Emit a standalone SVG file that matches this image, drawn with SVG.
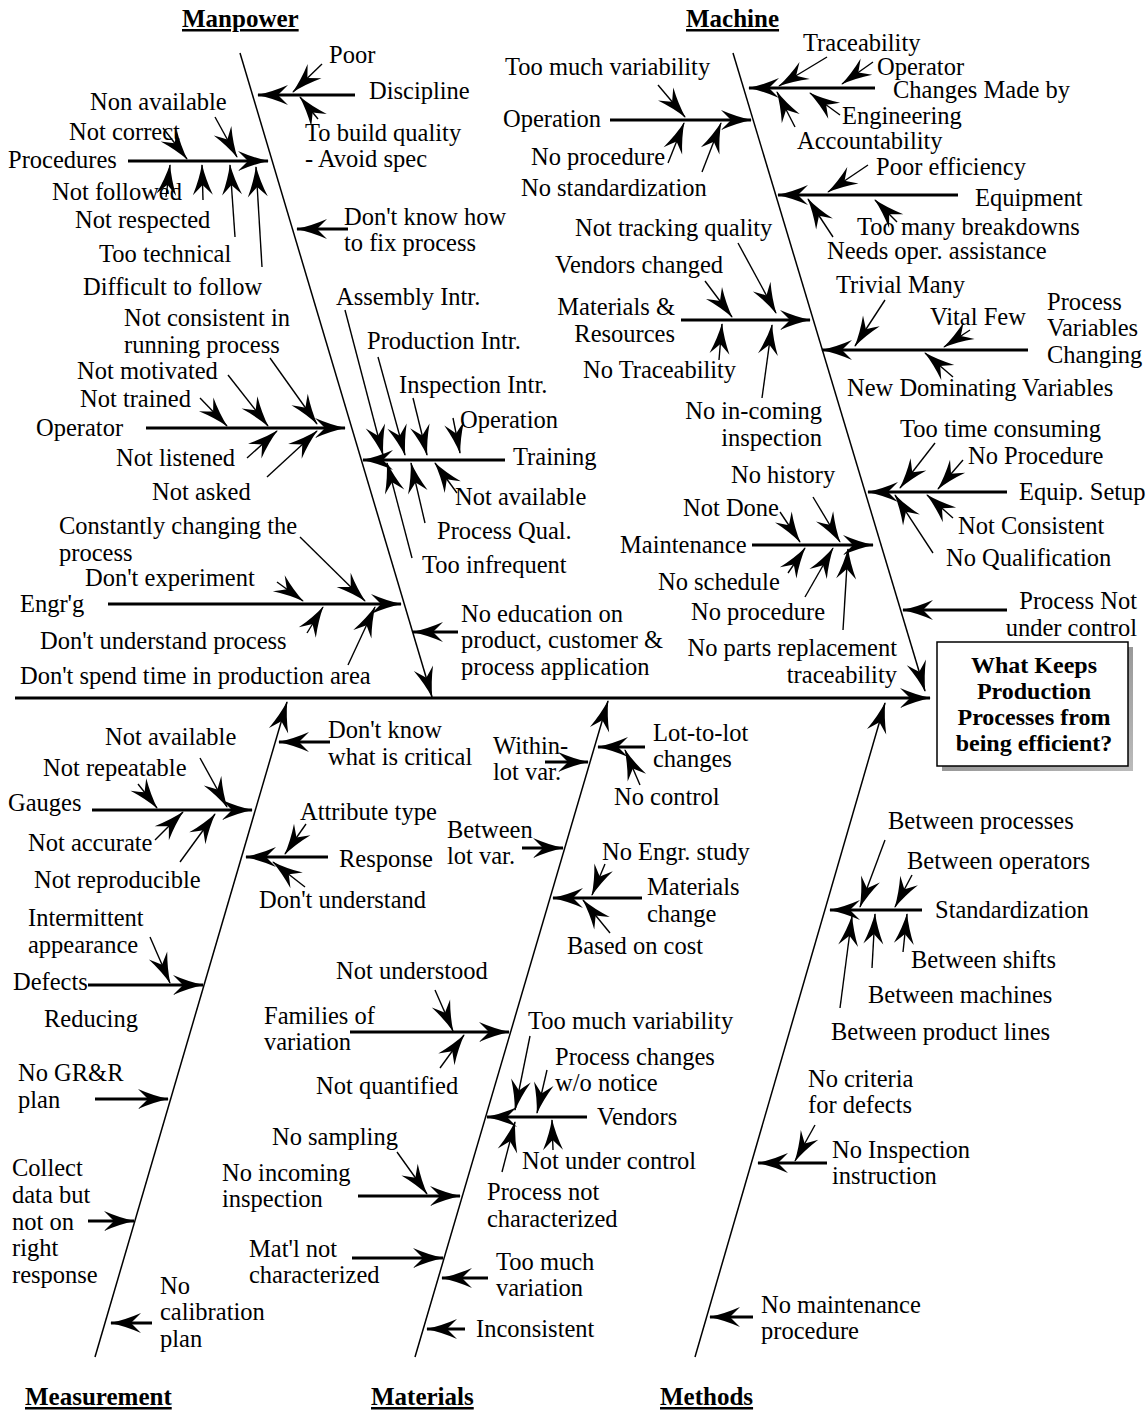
<svg xmlns="http://www.w3.org/2000/svg" width="1148" height="1414" viewBox="0 0 1148 1414">
<style>
text{font-family:"Liberation Serif","Times New Roman",serif;font-size:24.5px;fill:#000}
.h{font-weight:bold;text-decoration:underline;font-size:25px}
.b{font-weight:bold;font-size:24px}
.e{text-anchor:end}
.m{text-anchor:middle}
line{stroke:#000;fill:none;marker-end:url(#ah)}
.k{stroke-width:3}
.n{stroke-width:1.4}
.bone{stroke-width:1.5}
</style>
<defs>
<marker id="ah" markerUnits="userSpaceOnUse" orient="auto" markerWidth="34" markerHeight="24" viewBox="-32 -12 34 24" refX="0" refY="0" overflow="visible">
<path d="M1,0 Q-14,-3 -30,-10 Q-24,-4 -20,0 Q-24,4 -30,10 Q-14,3 1,0 Z" fill="#000"/>
</marker>
<linearGradient id="sh" x1="0" y1="0" x2="1" y2="1"><stop offset="0" stop-color="#777"/><stop offset="1" stop-color="#bbb"/></linearGradient>
</defs>
<rect width="1148" height="1414" fill="#fff"/>

<g id="connectors">
<line class="k" x1="15" y1="698" x2="930" y2="698"/>
<line class="bone" x1="240" y1="53" x2="432" y2="697"/>
<line class="bone" x1="733" y1="53" x2="925" y2="691"/>
<line class="bone" x1="95" y1="1357" x2="287" y2="702"/>
<line class="bone" x1="415" y1="1357" x2="608" y2="701"/>
<line class="bone" x1="695" y1="1357" x2="885" y2="703"/>
<line class="k" x1="355" y1="95" x2="258" y2="95"/>
<line class="n" x1="322" y1="64" x2="293" y2="92"/>
<line class="n" x1="318" y1="119" x2="300" y2="97"/>
<line class="k" x1="128" y1="161" x2="268" y2="161"/>
<line class="n" x1="215" y1="117" x2="237" y2="157"/>
<line class="n" x1="163" y1="128" x2="187" y2="159"/>
<line class="n" x1="166" y1="197" x2="170" y2="165"/>
<line class="n" x1="203" y1="200" x2="202" y2="165"/>
<line class="n" x1="235" y1="237" x2="230" y2="165"/>
<line class="n" x1="262" y1="267" x2="256" y2="167"/>
<line class="k" x1="348" y1="229" x2="297" y2="229"/>
<line class="k" x1="146" y1="428" x2="345" y2="428"/>
<line class="n" x1="270" y1="358" x2="317" y2="424"/>
<line class="n" x1="228" y1="375" x2="268" y2="426"/>
<line class="n" x1="200" y1="398" x2="227" y2="426"/>
<line class="n" x1="247" y1="458" x2="277" y2="431"/>
<line class="n" x1="267" y1="477" x2="317" y2="431"/>
<line class="k" x1="505" y1="460" x2="363" y2="460"/>
<line class="n" x1="345" y1="310" x2="383" y2="455"/>
<line class="n" x1="378" y1="357" x2="405" y2="455"/>
<line class="n" x1="413" y1="398" x2="427" y2="455"/>
<line class="n" x1="453" y1="418" x2="460" y2="453"/>
<line class="n" x1="457" y1="493" x2="435" y2="463"/>
<line class="n" x1="425" y1="523" x2="411" y2="463"/>
<line class="n" x1="412" y1="558" x2="387" y2="463"/>
<line class="k" x1="108" y1="604" x2="401" y2="604"/>
<line class="n" x1="300" y1="537" x2="365" y2="601"/>
<line class="n" x1="277" y1="582" x2="303" y2="601"/>
<line class="n" x1="307" y1="633" x2="323" y2="607"/>
<line class="n" x1="348" y1="665" x2="375" y2="607"/>
<line class="k" x1="458" y1="632" x2="413" y2="632"/>
<line class="k" x1="875" y1="88" x2="749" y2="88"/>
<line class="n" x1="827" y1="57" x2="779" y2="86"/>
<line class="n" x1="873" y1="62" x2="842" y2="84"/>
<line class="n" x1="840" y1="115" x2="810" y2="93"/>
<line class="n" x1="795" y1="127" x2="777" y2="92"/>
<line class="k" x1="610" y1="120" x2="751" y2="120"/>
<line class="n" x1="658" y1="85" x2="685" y2="117"/>
<line class="n" x1="668" y1="163" x2="684" y2="123"/>
<line class="n" x1="702" y1="172" x2="721" y2="123"/>
<line class="k" x1="958" y1="195" x2="778" y2="195"/>
<line class="n" x1="868" y1="165" x2="828" y2="192"/>
<line class="n" x1="897" y1="222" x2="875" y2="200"/>
<line class="n" x1="833" y1="237" x2="808" y2="199"/>
<line class="k" x1="681" y1="320" x2="810" y2="320"/>
<line class="n" x1="738" y1="243" x2="776" y2="313"/>
<line class="n" x1="705" y1="281" x2="732" y2="317"/>
<line class="n" x1="719" y1="360" x2="722" y2="324"/>
<line class="n" x1="762" y1="398" x2="772" y2="325"/>
<line class="k" x1="1028" y1="350" x2="822" y2="350"/>
<line class="n" x1="885" y1="300" x2="855" y2="346"/>
<line class="n" x1="970" y1="330" x2="944" y2="347"/>
<line class="n" x1="953" y1="377" x2="925" y2="353"/>
<line class="k" x1="1007" y1="492" x2="868" y2="492"/>
<line class="n" x1="935" y1="443" x2="900" y2="488"/>
<line class="n" x1="963" y1="460" x2="938" y2="489"/>
<line class="n" x1="953" y1="518" x2="927" y2="495"/>
<line class="n" x1="933" y1="553" x2="895" y2="495"/>
<line class="k" x1="752" y1="545" x2="873" y2="545"/>
<line class="n" x1="813" y1="497" x2="840" y2="542"/>
<line class="n" x1="780" y1="512" x2="800" y2="542"/>
<line class="n" x1="788" y1="573" x2="805" y2="548"/>
<line class="n" x1="805" y1="597" x2="833" y2="548"/>
<line class="n" x1="843" y1="630" x2="848" y2="549"/>
<line class="k" x1="1007" y1="610" x2="903" y2="610"/>
<line class="k" x1="330" y1="742" x2="279" y2="742"/>
<line class="k" x1="92" y1="810" x2="252" y2="810"/>
<line class="n" x1="200" y1="758" x2="227" y2="807"/>
<line class="n" x1="138" y1="784" x2="157" y2="808"/>
<line class="n" x1="155" y1="840" x2="183" y2="812"/>
<line class="n" x1="180" y1="862" x2="215" y2="814"/>
<line class="k" x1="328" y1="857" x2="246" y2="857"/>
<line class="n" x1="306" y1="824" x2="285" y2="854"/>
<line class="n" x1="305" y1="887" x2="273" y2="862"/>
<line class="k" x1="88" y1="985" x2="203" y2="985"/>
<line class="n" x1="150" y1="937" x2="170" y2="983"/>
<line class="k" x1="95" y1="1099" x2="168" y2="1099"/>
<line class="k" x1="88" y1="1221" x2="134" y2="1221"/>
<line class="k" x1="152" y1="1323" x2="111" y2="1323"/>
<line class="k" x1="545" y1="762" x2="588" y2="762"/>
<line class="k" x1="645" y1="747" x2="598" y2="747"/>
<line class="n" x1="640" y1="785" x2="625" y2="750"/>
<line class="k" x1="522" y1="848" x2="563" y2="848"/>
<line class="k" x1="642" y1="898" x2="553" y2="898"/>
<line class="n" x1="605" y1="864" x2="592" y2="895"/>
<line class="n" x1="610" y1="933" x2="583" y2="900"/>
<line class="k" x1="350" y1="1032" x2="509" y2="1032"/>
<line class="n" x1="435" y1="990" x2="453" y2="1031"/>
<line class="n" x1="440" y1="1068" x2="464" y2="1035"/>
<line class="k" x1="587" y1="1117" x2="487" y2="1117"/>
<line class="n" x1="530" y1="1036" x2="515" y2="1110"/>
<line class="n" x1="547" y1="1070" x2="537" y2="1113"/>
<line class="n" x1="553" y1="1150" x2="552" y2="1120"/>
<line class="n" x1="502" y1="1172" x2="515" y2="1122"/>
<line class="k" x1="358" y1="1196" x2="460" y2="1196"/>
<line class="n" x1="397" y1="1152" x2="427" y2="1194"/>
<line class="k" x1="352" y1="1258" x2="443" y2="1258"/>
<line class="k" x1="488" y1="1278" x2="442" y2="1278"/>
<line class="k" x1="465" y1="1329" x2="427" y2="1329"/>
<line class="k" x1="922" y1="910" x2="830" y2="910"/>
<line class="n" x1="885" y1="840" x2="860" y2="907"/>
<line class="n" x1="912" y1="875" x2="895" y2="907"/>
<line class="n" x1="903" y1="952" x2="907" y2="914"/>
<line class="n" x1="872" y1="968" x2="875" y2="914"/>
<line class="n" x1="840" y1="1008" x2="852" y2="916"/>
<line class="k" x1="827" y1="1163" x2="758" y2="1163"/>
<line class="n" x1="815" y1="1125" x2="795" y2="1161"/>
<line class="k" x1="753" y1="1317" x2="710" y2="1317"/>
</g>

<g id="head">
<rect x="942" y="647" width="191" height="124" fill="url(#sh)"/>
<rect x="937" y="642" width="191" height="124" fill="#fff" stroke="#000" stroke-width="1.5"/>
<text class="b m" x="1034" y="673">What Keeps</text>
<text class="b m" x="1034" y="699">Production</text>
<text class="b m" x="1034" y="725">Processes from</text>
<text class="b m" x="1034" y="751">being efficient?</text>
</g>

<g id="cat-manpower"><text class="h" x="182" y="27">Manpower</text></g>
<g id="cat-machine"><text class="h" x="686" y="27">Machine</text></g>
<g id="cat-measurement"><text class="h" x="25" y="1405">Measurement</text></g>
<g id="cat-materials"><text class="h" x="371" y="1405">Materials</text></g>
<g id="cat-methods"><text class="h" x="660" y="1405">Methods</text></g>

<g id="manpower-labels">
<g id="mp-poor"><text x="329" y="63">Poor</text></g>
<g id="mp-discipline"><text x="369" y="99">Discipline</text></g>
<g id="mp-tobuild"><text x="305" y="141">To build quality</text><text x="305" y="167">- Avoid spec</text></g>
<g id="mp-nonavail"><text x="90" y="110">Non available</text></g>
<g id="mp-notcorrect"><text x="69" y="140">Not correct</text></g>
<g id="mp-procedures"><text x="8" y="168">Procedures</text></g>
<g id="mp-notfollowed"><text x="52" y="200">Not followed</text></g>
<g id="mp-notrespected"><text x="75" y="228">Not respected</text></g>
<g id="mp-tootech"><text x="99" y="262">Too technical</text></g>
<g id="mp-difficult"><text x="83" y="295">Difficult to follow</text></g>
<g id="mp-dontknow"><text x="344" y="225">Don't know how</text><text x="344" y="251">to fix process</text></g>
<g id="mp-assembly"><text x="336" y="305">Assembly Intr.</text></g>
<g id="mp-notconsistent"><text x="124" y="326">Not consistent in</text><text x="124" y="353">running process</text></g>
<g id="mp-production"><text x="367" y="349">Production Intr.</text></g>
<g id="mp-notmotivated"><text x="77" y="379">Not motivated</text></g>
<g id="mp-inspection"><text x="399" y="393">Inspection Intr.</text></g>
<g id="mp-nottrained"><text x="80" y="407">Not trained</text></g>
<g id="mp-operation"><text x="460" y="428">Operation</text></g>
<g id="mp-operator"><text x="36" y="436">Operator</text></g>
<g id="mp-training"><text x="513" y="465">Training</text></g>
<g id="mp-notlistened"><text x="116" y="466">Not listened</text></g>
<g id="mp-notavailable"><text x="455" y="505">Not available</text></g>
<g id="mp-notasked"><text x="152" y="500">Not asked</text></g>
<g id="mp-processqual"><text x="437" y="539">Process Qual.</text></g>
<g id="mp-constantly"><text x="59" y="534">Constantly changing the</text><text x="59" y="561">process</text></g>
<g id="mp-tooinfrequent"><text x="422" y="573">Too infrequent</text></g>
<g id="mp-dontexperiment"><text x="85" y="586">Don't experiment</text></g>
<g id="mp-engrg"><text x="20" y="612">Engr'g</text></g>
<g id="mp-noeducation"><text x="461" y="622">No education on</text><text x="461" y="648">product, customer &amp;</text><text x="461" y="675">process application</text></g>
<g id="mp-dontunderstand"><text x="40" y="649">Don't understand process</text></g>
<g id="mp-dontspend"><text x="20" y="684">Don't spend time in production area</text></g>
</g>

<g id="machine-labels">
<g id="mc-traceability"><text x="803" y="51">Traceability</text></g>
<g id="mc-toomuch"><text x="505" y="75">Too much variability</text></g>
<g id="mc-operator"><text x="877" y="75">Operator</text></g>
<g id="mc-changes"><text x="893" y="98">Changes Made by</text></g>
<g id="mc-operation"><text x="503" y="127">Operation</text></g>
<g id="mc-engineering"><text x="842" y="124">Engineering</text></g>
<g id="mc-accountability"><text x="797" y="149">Accountability</text></g>
<g id="mc-noprocedure"><text x="531" y="165">No procedure</text></g>
<g id="mc-poorefficiency"><text x="876" y="175">Poor efficiency</text></g>
<g id="mc-nostandard"><text x="521" y="196">No standardization</text></g>
<g id="mc-equipment"><text x="975" y="206">Equipment</text></g>
<g id="mc-toomany"><text x="857" y="235">Too many breakdowns</text></g>
<g id="mc-nottracking"><text x="575" y="236">Not tracking quality</text></g>
<g id="mc-needsoper"><text x="827" y="259">Needs oper. assistance</text></g>
<g id="mc-vendorschanged"><text x="555" y="273">Vendors changed</text></g>
<g id="mc-trivial"><text x="836" y="293">Trivial Many</text></g>
<g id="mc-procvars"><text x="1047" y="310">Process</text><text x="1047" y="336">Variables</text><text x="1047" y="363">Changing</text></g>
<g id="mc-materials"><text class="e" x="675" y="315">Materials &amp;</text><text class="e" x="675" y="342">Resources</text></g>
<g id="mc-vitalfew"><text x="930" y="325">Vital Few</text></g>
<g id="mc-notrace"><text x="583" y="378">No Traceability</text></g>
<g id="mc-newdom"><text x="847" y="396">New Dominating Variables</text></g>
<g id="mc-noincoming"><text class="e" x="822" y="419">No in-coming</text><text class="e" x="822" y="446">inspection</text></g>
<g id="mc-tootime"><text x="900" y="437">Too time consuming</text></g>
<g id="mc-noprocedure2"><text x="968" y="464">No Procedure</text></g>
<g id="mc-nohistory"><text x="731" y="483">No history</text></g>
<g id="mc-equipsetup"><text x="1019" y="500">Equip. Setup</text></g>
<g id="mc-notdone"><text x="683" y="516">Not Done</text></g>
<g id="mc-notconsistent"><text x="958" y="534">Not Consistent</text></g>
<g id="mc-maintenance"><text x="620" y="553">Maintenance</text></g>
<g id="mc-noqual"><text x="946" y="566">No Qualification</text></g>
<g id="mc-noschedule"><text x="658" y="590">No schedule</text></g>
<g id="mc-processnot"><text class="e" x="1137" y="609">Process Not</text><text class="e" x="1137" y="636">under control</text></g>
<g id="mc-noprocedure3"><text x="691" y="620">No procedure</text></g>
<g id="mc-noparts"><text class="e" x="897" y="656">No parts replacement</text><text class="e" x="897" y="683">traceability</text></g>
</g>

<g id="measurement-labels">
<g id="ms-dontknow"><text x="328" y="738">Don't know</text><text x="328" y="765">what is critical</text></g>
<g id="ms-notavailable"><text x="105" y="745">Not available</text></g>
<g id="ms-notrepeatable"><text x="43" y="776">Not repeatable</text></g>
<g id="ms-gauges"><text x="8" y="811">Gauges</text></g>
<g id="ms-attribute"><text x="300" y="820">Attribute type</text></g>
<g id="ms-notaccurate"><text x="28" y="851">Not accurate</text></g>
<g id="ms-response"><text x="339" y="867">Response</text></g>
<g id="ms-notrepro"><text x="34" y="888">Not reproducible</text></g>
<g id="ms-dontunderstand"><text x="259" y="908">Don't understand</text></g>
<g id="ms-intermittent"><text x="28" y="926">Intermittent</text><text x="28" y="953">appearance</text></g>
<g id="ms-defects"><text x="13" y="990">Defects</text></g>
<g id="ms-reducing"><text x="44" y="1027">Reducing</text></g>
<g id="ms-nogrr"><text x="18" y="1081">No GR&amp;R</text><text x="18" y="1108">plan</text></g>
<g id="ms-collect"><text x="12" y="1176">Collect</text><text x="12" y="1203">data but</text><text x="12" y="1230">not on</text><text x="12" y="1256">right</text><text x="12" y="1283">response</text></g>
<g id="ms-nocal"><text x="160" y="1294">No</text><text x="160" y="1320">calibration</text><text x="160" y="1347">plan</text></g>
</g>

<g id="materials-labels">
<g id="mt-within"><text x="493" y="754">Within-</text><text x="493" y="780">lot var.</text></g>
<g id="mt-lottolot"><text x="653" y="741">Lot-to-lot</text><text x="653" y="767">changes</text></g>
<g id="mt-nocontrol"><text x="614" y="805">No control</text></g>
<g id="mt-between"><text x="447" y="838">Between</text><text x="447" y="864">lot var.</text></g>
<g id="mt-noengr"><text x="602" y="860">No Engr. study</text></g>
<g id="mt-matchange"><text x="647" y="895">Materials</text><text x="647" y="922">change</text></g>
<g id="mt-basedoncost"><text x="567" y="954">Based on cost</text></g>
<g id="mt-notunderstood"><text x="336" y="979">Not understood</text></g>
<g id="mt-families"><text x="264" y="1024">Families of</text><text x="264" y="1050">variation</text></g>
<g id="mt-toomuchvar"><text x="528" y="1029">Too much variability</text></g>
<g id="mt-procchanges"><text x="555" y="1065">Process changes</text><text x="555" y="1091">w/o notice</text></g>
<g id="mt-notquant"><text x="316" y="1094">Not quantified</text></g>
<g id="mt-vendors"><text x="597" y="1125">Vendors</text></g>
<g id="mt-nosampling"><text x="272" y="1145">No sampling</text></g>
<g id="mt-notunder"><text x="522" y="1169">Not under control</text></g>
<g id="mt-noincoming"><text x="222" y="1181">No incoming</text><text x="222" y="1207">inspection</text></g>
<g id="mt-procnotchar"><text x="487" y="1200">Process not</text><text x="487" y="1227">characterized</text></g>
<g id="mt-matlnot"><text x="249" y="1257">Mat'l not</text><text x="249" y="1283">characterized</text></g>
<g id="mt-toomuchvariation"><text x="496" y="1270">Too much</text><text x="496" y="1296">variation</text></g>
<g id="mt-inconsistent"><text x="476" y="1337">Inconsistent</text></g>
</g>

<g id="methods-labels">
<g id="me-betweenproc"><text x="888" y="829">Between processes</text></g>
<g id="me-betweenoper"><text x="907" y="869">Between operators</text></g>
<g id="me-standard"><text x="935" y="918">Standardization</text></g>
<g id="me-betweenshifts"><text x="911" y="968">Between shifts</text></g>
<g id="me-betweenmach"><text x="868" y="1003">Between machines</text></g>
<g id="me-betweenprod"><text x="831" y="1040">Between product lines</text></g>
<g id="me-nocriteria"><text x="808" y="1087">No criteria</text><text x="808" y="1113">for defects</text></g>
<g id="me-noinspection"><text x="832" y="1158">No Inspection</text><text x="832" y="1184">instruction</text></g>
<g id="me-nomaint"><text x="761" y="1313">No maintenance</text><text x="761" y="1339">procedure</text></g>
</g>
</svg>
